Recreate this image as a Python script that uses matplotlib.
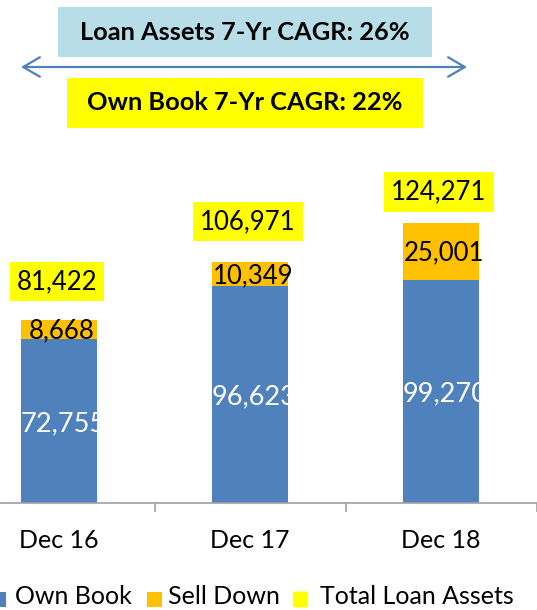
import numpy as np
import matplotlib.pyplot as plt
from matplotlib.patches import Rectangle, FancyArrowPatch, FancyBboxPatch

periods = ['Dec 16', 'Dec 17', 'Dec 18']
own_book = [72755, 96623, 99270]
sell_down = [8668, 10349, 25001]
total_assets = [81422, 106971, 124271]
series_names = ['Own Book', 'Sell Down', 'Total Loan Assets']
loan_cagr_text = 'Loan Assets 7-Yr CAGR: 26%'
own_cagr_text = 'Own Book 7-Yr CAGR: 22%'

BLUE = '#4F81BD'
ORANGE = '#FFC000'
YELLOW = '#FFFF00'
LIGHT_BLUE = '#B7DDE8'
GREY = '#A0A0A0'

W, H = 537, 610
PT = 0.72  # points per pixel at dpi 100
plt.rcParams['font.family'] = ['Lato', 'DejaVu Sans']

fig = plt.figure(figsize=(W / 100, H / 100), dpi=100)
ax = fig.add_axes([0, 107 / H, 1, 503 / H])

x = np.arange(len(periods))
ax.bar(x, own_book, width=0.4, color=BLUE)
ax.bar(x, sell_down, bottom=own_book, width=0.4, color=ORANGE)
ax.set_xlim(-59 / 191, (537 - 59) / 191)
ax.set_ylim(0, 503 / 0.00225)

for s in ['top', 'left', 'right']:
    ax.spines[s].set_visible(False)
ax.spines['bottom'].set_color(GREY)
ax.spines['bottom'].set_linewidth(1.2)
ax.set_yticks([])
ax.set_xticks(x + 0.5)
ax.tick_params(axis='x', which='major', length=9 * PT, width=1.2, color=GREY, labelbottom=False)
ax.set_xticks(x, minor=True)
ax.set_xticklabels(periods, minor=True, fontsize=18)
ax.tick_params(axis='x', which='minor', length=0, pad=19)

# bar labels
for xi, ob, sd, tot, off in zip(x, own_book, sell_down, total_assets, [38, 41, 31.5]):
    ax.annotate(f'{ob:,}', (xi, ob / 2), xytext=(4 * PT, -10 * PT), textcoords='offset points',
                ha='center', va='baseline', color='white', fontsize=19.5)
    ax.annotate(f'{sd:,}', (xi, ob + sd / 2), xytext=(3 * PT, -9 * PT), textcoords='offset points',
                ha='center', va='baseline', color='black', fontsize=18.5)
    ax.annotate(f'{tot:,}', (xi, tot), xytext=(-2 * PT, off * PT), textcoords='offset points',
                ha='center', va='center', color='black', fontsize=18.5,
                bbox=dict(boxstyle='square,pad=0.28', fc=YELLOW, ec='none'))


def fx(px):
    return px / W


def fy(py):
    return 1 - py / H


# CAGR boxes
fig.patches.append(Rectangle((fx(58), fy(57)), fx(432) - fx(58), fy(7) - fy(57),
                             transform=fig.transFigure, fc=LIGHT_BLUE, ec='none'))
fig.text(fx(245), fy(32), loan_cagr_text, ha='center', va='center', fontsize=18.3, fontweight='bold')
fig.patches.append(Rectangle((fx(67), fy(128)), fx(423) - fx(67), fy(78) - fy(128),
                             transform=fig.transFigure, fc=YELLOW, ec='none'))
fig.text(fx(245), fy(103), own_cagr_text, ha='center', va='center', fontsize=18.3, fontweight='bold')

fig.patches.append(FancyArrowPatch((fx(21), fy(67)), (fx(467), fy(67)), transform=fig.transFigure,
                                   arrowstyle='<->,head_length=12,head_width=7', mutation_scale=1,
                                   shrinkA=0, shrinkB=0, lw=1.6, color=BLUE))

# legend
for name, color, mx, tx in zip(series_names, [BLUE, ORANGE, YELLOW], [-9, 147, 293], [15, 168, 320]):
    if name == 'Total Loan Assets':
        fig.patches.append(FancyBboxPatch((fx(mx + 2), fy(605)), fx(11), fy(594) - fy(605),
                                          boxstyle='round,pad=0.004', transform=fig.transFigure,
                                          fc=color, ec='none'))
    else:
        fig.patches.append(Rectangle((fx(mx), fy(607)), fx(15), fy(592) - fy(607),
                                     transform=fig.transFigure, fc=color, ec='none'))
    fig.text(fx(tx), fy(604), name, ha='left', va='baseline', fontsize=18)

fig.savefig('out.png', dpi=100)
